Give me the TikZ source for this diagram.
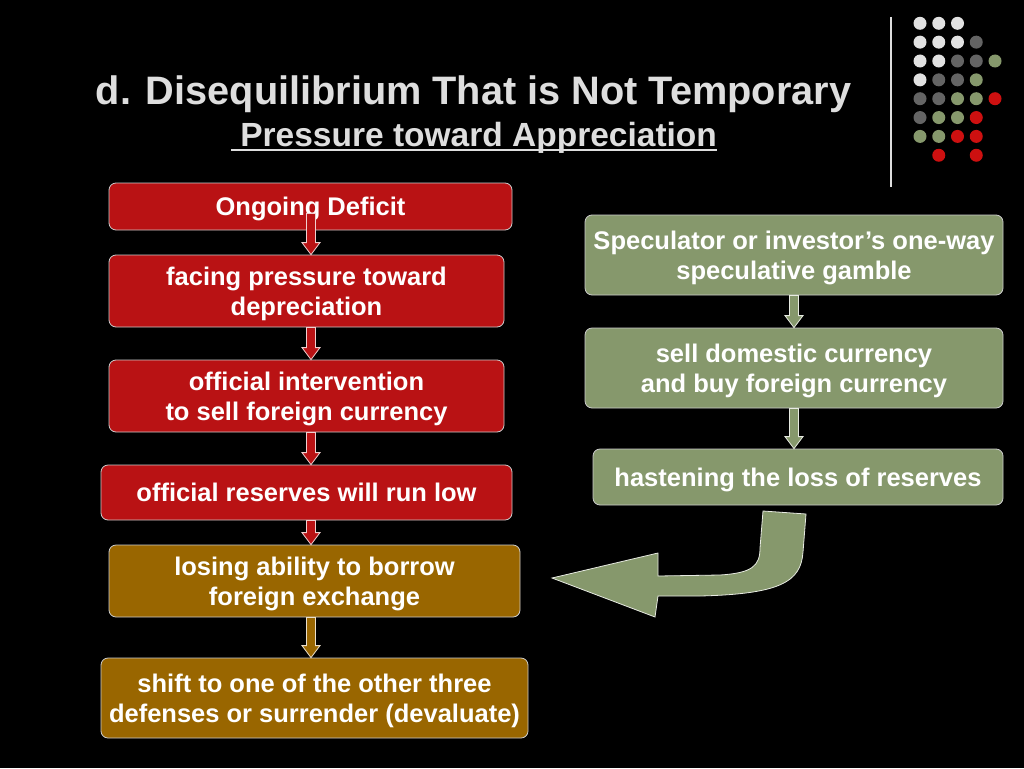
\documentclass[tikz,border=0pt]{standalone}
\usepackage{fontspec}
\setmainfont{Liberation Sans}
\usepackage{tikz}
\usetikzlibrary{calc}

\definecolor{boxred}{RGB}{185,18,20}
\definecolor{boxgreen}{RGB}{134,152,108}
\definecolor{boxbrown}{RGB}{153,102,0}
\definecolor{dotgray}{RGB}{100,100,100}
\definecolor{dotwhite}{RGB}{225,225,225}
\definecolor{dotred}{RGB}{205,16,16}
\definecolor{titlegray}{RGB}{222,222,222}

% fat arrow between two points: #1 start, #2 tip, #3 fill
\newcommand{\blkarrow}[3]{%
	\path[draw=white!80!#3, fill=#3, line width=0.8pt]
	let \p1 = #1, \p2 = #2 in
	(\x1-4.5pt,\y1) -- (\x1+4.5pt,\y1) -- (\x1+4.5pt,\y2+12pt) -- (\x1+9pt,\y2+12pt)
	-- (\x1,\y2) -- (\x1-9pt,\y2+12pt) -- (\x1-4.5pt,\y2+12pt) -- cycle;}

\begin{document}
\begin{tikzpicture}[x=1pt, y=-1pt,
		box/.style = {draw=white!80!black, rounded corners=7pt, line width=0.8pt, text=white,
			align=center, inner sep=0pt, text depth=0pt, font=\bfseries\fontsize{25.5}{30}\selectfont},
		redbox/.style = {box, fill=boxred},
		greenbox/.style = {box, fill=boxgreen},
		brownbox/.style = {box, fill=boxbrown},
		ttl/.style = {text=titlegray, inner sep=0pt, anchor=base}
		]
		\fill[black] (0,0) rectangle (1024,768);
		\useasboundingbox (0,0) rectangle (1024,768);
		
		% titles
		\node (title) [ttl, font=\bfseries\fontsize{39.7}{40}\selectfont] at (473.5,104) {d. Disequilibrium That is Not Temporary};
		\node (subtitle) [ttl, font=\bfseries\fontsize{33.5}{34}\selectfont] at (474,146) {\ Pressure toward Appreciation};
		\draw[titlegray, line width=1.4pt] ([yshift=-4pt]subtitle.base west) -- ([yshift=-4pt]subtitle.base east);
		
		% dots and rule
		\draw[titlegray, line width=1.2pt] (891,17) -- (891,187);
		\foreach \c/\r/\col in {0/0/dotwhite,1/0/dotwhite,2/0/dotwhite,
			0/1/dotwhite,1/1/dotwhite,2/1/dotwhite,3/1/dotgray,
			0/2/dotwhite,1/2/dotwhite,2/2/dotgray,3/2/dotgray,4/2/boxgreen,
			0/3/dotwhite,1/3/dotgray,2/3/dotgray,3/3/boxgreen,
			0/4/dotgray,1/4/dotgray,2/4/boxgreen,3/4/boxgreen,4/4/dotred,
			0/5/dotgray,1/5/boxgreen,2/5/boxgreen,3/5/dotred,
			0/6/boxgreen,1/6/boxgreen,2/6/dotred,3/6/dotred,
			1/7/dotred,3/7/dotred}
		\fill[\col] (920+18.75*\c, 23.3+18.85*\r) circle (6.5);
		
		% left column
		\coordinate (colL) at (311,0);
		\coordinate (colR) at (794,0);
		\node (b0) [redbox, minimum width=403, minimum height=47] at (310.5,206.5) {Ongoing Deficit};
		\node (b1) [redbox, minimum width=395, minimum height=72] at (306.5,291) {facing pressure toward\\depreciation};
		\node (b2) [redbox, minimum width=395, minimum height=72] at (306.5,396) {official intervention\\to sell foreign currency};
		\node (b3) [redbox, minimum width=411, minimum height=55] at (306.5,492.5) {official reserves will run low};
		\node (b4) [brownbox, minimum width=411, minimum height=72] at (314.5,581) {losing ability to borrow\\foreign exchange};
		\node (b5) [brownbox, minimum width=427, minimum height=80] at (314.5,698) {shift to one of the other three\\defenses or surrender (devaluate)};
		
		% right column
		\node (r0) [greenbox, minimum width=418, minimum height=80] at (794,255) {Speculator or investor’s one-way\\speculative gamble};
		\node (r1) [greenbox, minimum width=418, minimum height=80] at (794,368) {sell domestic currency\\and buy foreign currency};
		\node (r2) [greenbox, minimum width=410, minimum height=56] at (798,477) {hastening the loss of reserves};
		
		% arrows
		\blkarrow{([yshift=-7pt]b0.center -| colL)}{(b1.north -| colL)}{boxred}
		\blkarrow{(b1.south -| colL)}{(b2.north -| colL)}{boxred}
		\blkarrow{(b2.south -| colL)}{(b3.north -| colL)}{boxred}
		\blkarrow{(b3.south -| colL)}{(b4.north -| colL)}{boxred}
		\blkarrow{(b4.south -| colL)}{(b5.north -| colL)}{boxbrown}
		\blkarrow{(r0.south -| colR)}{(r1.north -| colR)}{boxgreen}
		\blkarrow{(r1.south -| colR)}{(r2.north -| colR)}{boxgreen}
		
		% curved arrow back to the left column
		\draw[draw=white!80!boxgreen, fill=boxgreen, line width=0.8pt]
		(763,511) -- (806,514) -- (803,552) .. controls (801,582) and (780,594) .. (700,596)
		-- (658,596) -- (655,617) -- (552,578) -- (658,553) -- (658,576) -- (720,575)
		.. controls (752,573) and (760,566) .. (760,548) -- cycle;
		
\end{tikzpicture}
\end{document}
